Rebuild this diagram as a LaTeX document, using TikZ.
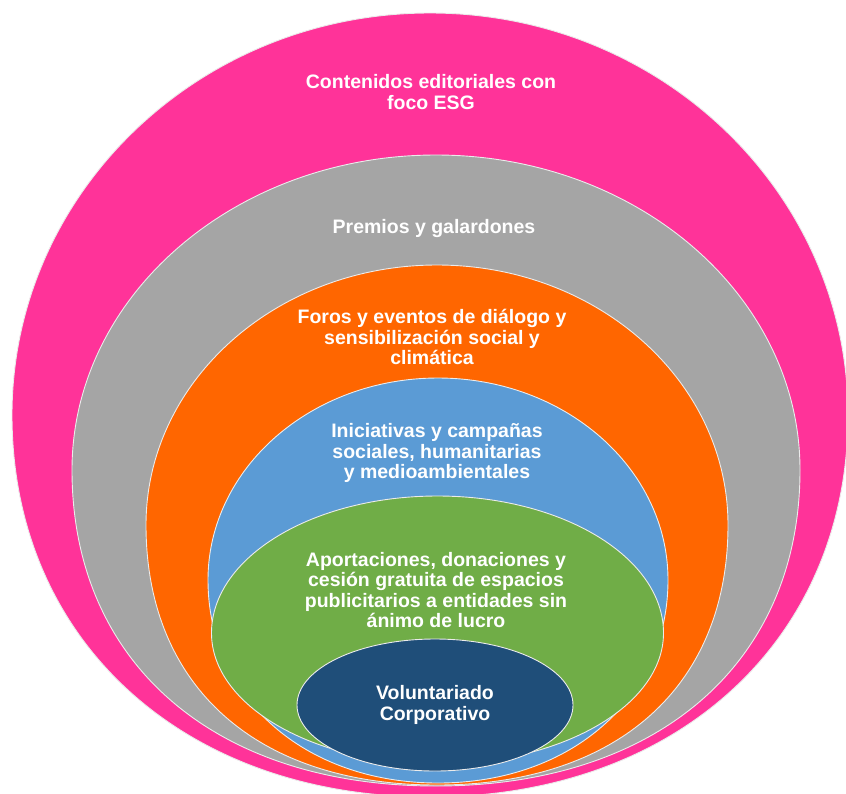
\documentclass[tikz,border=0pt]{standalone}
\usepackage{fontspec}
\setmainfont{Liberation Sans}
\definecolor{cpink}{HTML}{FF3399}
\definecolor{cgray}{HTML}{A5A5A5}
\definecolor{corange}{HTML}{FF6600}
\definecolor{cblue}{HTML}{5B9BD5}
\definecolor{cgreen}{HTML}{70AD47}
\definecolor{cnavy}{HTML}{1F4E79}
% #1 fill, #2 cx, #3 cy, #4 rx, #5 top radius, #6 bottom radius, #7 bottom fullness
\newcommand{\eggring}[7]{%
  \path[ring, fill=#1] ({#2-#4},#3)
    .. controls ({#2-#4},{#3-0.5523*#5}) and ({#2-0.5523*#4},{#3-#5}) .. ({#2},{#3-#5})
    .. controls ({#2+0.5523*#4},{#3-#5}) and ({#2+#4},{#3-0.5523*#5}) .. ({#2+#4},#3)
    .. controls ({#2+#4},{#3+#7*#6}) and ({#2+#7*#4},{#3+#6}) .. ({#2},{#3+#6})
    .. controls ({#2-#7*#4},{#3+#6}) and ({#2-#4},{#3+#7*#6}) .. ({#2-#4},#3) -- cycle;}
\begin{document}
\begin{tikzpicture}[x=1pt,y=-1pt,
  ring/.style={draw=white!92!black, line width=0.9pt},
  lbl/.style={text=white, font=\fontsize{19.5}{20.3}\selectfont\bfseries, align=center, inner sep=0pt}]
\useasboundingbox (0,0) rectangle (846,793);
\eggring{cpink}{430}{415}{418}{402}{382}{0.59}
\eggring{cgray}{436}{470}{364}{315}{316}{0.61}
\eggring{corange}{437}{525}{291}{260}{260}{0.62}
\eggring{cblue}{438}{580}{230}{202}{203}{0.58}
\eggring{cgreen}{437.5}{633}{226}{137}{131}{0.5523}
\eggring{cnavy}{435}{705}{138}{66}{66}{0.5523}
\node[lbl] (t1) at (431,92) {Contenidos editoriales con\\foco ESG};
\node[lbl] (t2) at (434,228) {Premios y galardones};
\node[lbl] (t3) at (432,337) {Foros y eventos de diálogo y\\sensibilización social y\\climática};
\node[lbl] (t4) at (437,453) {Iniciativas y campañas\\sociales, humanitarias\\y medioambientales};
\node[lbl] (t5) at (436,590) {Aportaciones, donaciones y\\cesión gratuita de espacios\\publicitarios a entidades sin\\ánimo de lucro};
\node[lbl] (t6) at (435,705) {Voluntariado\\Corporativo};
\end{tikzpicture}
\end{document}
